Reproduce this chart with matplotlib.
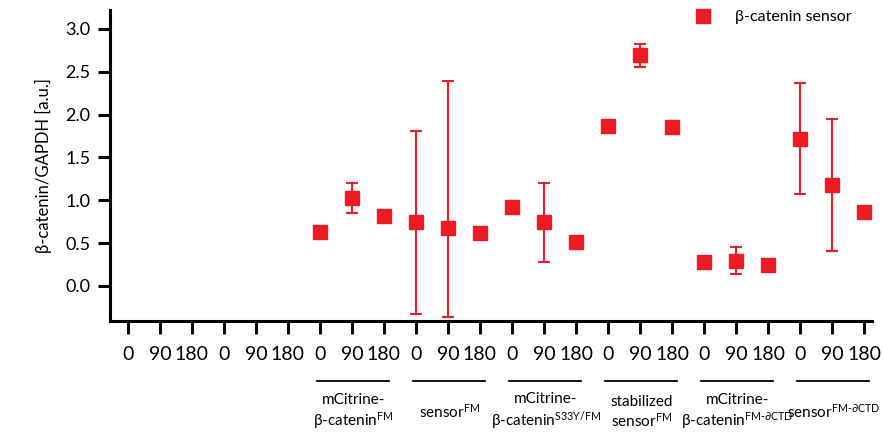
import numpy as np
import matplotlib
matplotlib.use("Agg")
import matplotlib.pyplot as plt
from matplotlib import transforms
from matplotlib.lines import Line2D

plt.rcParams['font.family'] = ['Lato', 'DejaVu Sans']
plt.rcParams['mathtext.default'] = 'regular'

# ---- data ----
tick_labels = ["0", "90", "180"] * 8
means = [np.nan, np.nan, np.nan, np.nan, np.nan, np.nan,
         0.63, 1.03, 0.82,
         0.74, 0.67, 0.62,
         0.92, 0.74, 0.51,
         1.87, 2.69, 1.86,
         0.28, 0.29, 0.24,
         1.72, 1.18, 0.86]
err_low = [np.nan] * 6 + [np.nan, 0.85, np.nan,
                          -0.33, -0.36, np.nan,
                          np.nan, 0.28, np.nan,
                          np.nan, 2.56, np.nan,
                          np.nan, 0.14, np.nan,
                          1.07, 0.41, np.nan]
err_high = [np.nan] * 6 + [np.nan, 1.20, np.nan,
                           1.81, 2.39, np.nan,
                           np.nan, 1.20, np.nan,
                           np.nan, 2.82, np.nan,
                           np.nan, 0.45, np.nan,
                           2.37, 1.95, np.nan]
groups = ["mCitrine-\nβ-catenin$^{FM}$",
          "sensor$^{FM}$",
          "mCitrine-\nβ-catenin$^{S33Y/FM}$",
          "stabilized\nsensor$^{FM}$",
          "mCitrine-\nβ-catenin$^{FM\u2010\u2202CTD}$",
          "sensor$^{FM\u2010\u2202CTD}$"]
group_start = [6, 9, 12, 15, 18, 21]
series_name = "β-catenin sensor"

red = "#ED1C24"

fig = plt.figure(figsize=(8.83, 4.34), dpi=100)
ax = fig.add_axes([110/883, 1 - 321/434, 762/883, 311/434])

x = np.arange(len(means))
m = np.array(means, dtype=float)
lo = np.array(err_low, dtype=float)
hi = np.array(err_high, dtype=float)
has = ~np.isnan(lo)
ax.errorbar(x[has], m[has], yerr=[m[has] - lo[has], hi[has] - m[has]],
            fmt='none', ecolor=red, elinewidth=1.5, capsize=4, capthick=1.5)
ax.plot(x, m, 's', color=red, markersize=9.5, linestyle='none')

ax.set_xlim(-0.56, 23.25)
ax.set_ylim(-0.41, 3.22)
ax.set_xticks(x)
ax.set_xticklabels(tick_labels, fontsize=14)
ax.set_yticks([0, 0.5, 1.0, 1.5, 2.0, 2.5, 3.0])
ax.set_yticklabels(["0.0", "0.5", "1.0", "1.5", "2.0", "2.5", "3.0"], fontsize=13)
ax.tick_params(axis='both', direction='out', length=9, width=2.2, color='black')
ax.tick_params(axis='x', pad=9)
ax.tick_params(axis='y', pad=5)
for s in ['top', 'right']:
    ax.spines[s].set_visible(False)
for s in ['left', 'bottom']:
    ax.spines[s].set_linewidth(2.2)
ax.set_ylabel("β-catenin/GAPDH [a.u.]", fontsize=12, labelpad=10)

trans = transforms.blended_transform_factory(ax.transData, fig.transFigure)
for g, st in zip(groups, group_start):
    ax.add_line(Line2D([st - 0.1, st + 2.15], [1 - 381/434] * 2, transform=trans,
                       color='black', lw=1.3, clip_on=False))
    ax.text(st + 1.05, 1 - 412/434, g, transform=trans, ha='center', va='center',
            fontsize=11, multialignment='center', linespacing=1.2)

handle = Line2D([], [], marker='s', color=red, markersize=9.5, linestyle='none')
fig.legend([handle], [series_name], loc='upper right', bbox_to_anchor=(852/883, 1 - 10/434),
           frameon=False, fontsize=11.5, handletextpad=1.0, borderpad=0, borderaxespad=0)

fig.savefig("out.png", dpi=100)
